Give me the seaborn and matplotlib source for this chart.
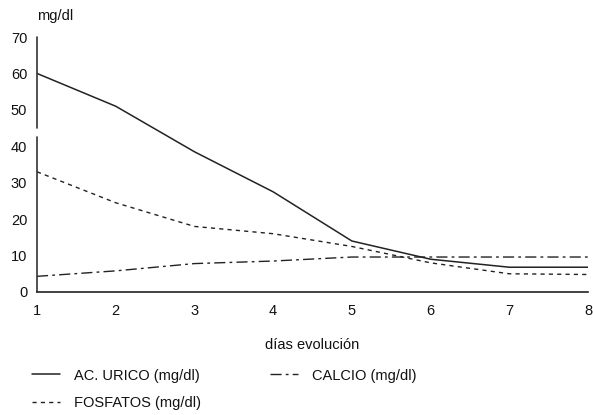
import matplotlib
matplotlib.use("Agg")
import matplotlib.pyplot as plt
import seaborn as sns
import pandas as pd

dias = [1, 2, 3, 4, 5, 6, 7, 8]
ac_urico = [60, 51, 38.5, 27.5, 14, 9, 6.8, 6.8]
fosfatos = [33, 24.5, 18, 16, 12.5, 8, 5, 4.8]
calcio = [4.3, 5.8, 7.8, 8.5, 9.6, 9.6, 9.6, 9.6]
y_ticks = [0, 10, 20, 30, 40, 50, 60, 70]

sns.set_style("white")
plt.rcParams['font.family'] = ['Liberation Sans', 'DejaVu Sans']

fig = plt.figure(figsize=(5.93, 4.15), dpi=100)
ax = fig.add_axes([0.0624, 0.2964, 0.9292, 0.6144])

col = "#222222"
sns.lineplot(x=dias, y=ac_urico, ax=ax, color=col, lw=1.1, linestyle="-", label="AC. URICO (mg/dl)")
sns.lineplot(x=dias, y=fosfatos, ax=ax, color=col, lw=1.0, linestyle=(0, (3, 3)), label="FOSFATOS (mg/dl)")
sns.lineplot(x=dias, y=calcio, ax=ax, color=col, lw=1.0, linestyle=(0, (8, 3, 2, 3)), label="CALCIO (mg/dl)")

fs = 10.5
ax.set_xlim(1, 8)
ax.set_ylim(0, 70)
ax.set_xticks(dias)
ax.set_yticks(y_ticks)
ax.tick_params(axis="both", length=0, labelsize=fs, colors="#111111")
ax.tick_params(axis="x", pad=9)
ax.tick_params(axis="y", pad=7)
for s in ["top", "right", "left"]:
    ax.spines[s].set_visible(False)
ax.spines["bottom"].set_color("#222222")
ax.spines["bottom"].set_linewidth(1.2)
# broken y axis line
ax.axvline(1, ymin=0, ymax=42.5 / 70, color="#333333", lw=1.2, clip_on=False)
ax.axvline(1, ymin=45 / 70, ymax=1, color="#333333", lw=1.2, clip_on=False)

ax.set_xlabel("días evolución", fontsize=fs, labelpad=14, color="#111111")
ax.set_ylabel("")
ax.text(0.0, 1.055, "mg/dl", transform=ax.transAxes, fontsize=fs, ha="left", va="bottom", color="#111111")

leg = ax.legend(loc="upper left", bbox_to_anchor=(32 / 593, 0.112), bbox_transform=fig.transFigure,
                ncol=2, frameon=False, borderpad=0, borderaxespad=0,
                fontsize=fs, handlelength=1.9, columnspacing=4.7, labelspacing=0.95, handletextpad=1.0)
for t in leg.get_texts():
    t.set_color("#111111")

fig.savefig("out.png", dpi=100)
